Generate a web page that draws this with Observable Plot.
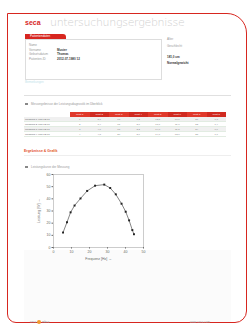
<!DOCTYPE html>
<html><head><meta charset="utf-8">
<script src="https://cdn.jsdelivr.net/npm/d3@7"></script>
<script src="https://cdn.jsdelivr.net/npm/@observablehq/plot@0.6"></script>
<style>
html,body{margin:0;padding:0;background:#fff;}
#page{position:relative;width:248px;height:326px;overflow:hidden;font-family:"Liberation Sans",Arial,sans-serif;color:#555;background:#fff;}
.abs{position:absolute;white-space:nowrap;}
#frame{position:absolute;left:7px;top:13px;width:238px;height:308px;border:1.5px solid #d7261f;border-radius:0 20px 12px 9px;}
#inner{position:absolute;left:24px;top:250px;width:207px;height:72px;background:#fbfbfb;}
.t{font-size:3px;color:#999;}
.b{font-size:3px;color:#333;font-weight:bold;}
table{border-collapse:collapse;font-size:2.5px;color:#888;}
td{height:4px;padding:0 1px;text-align:center;}
</style></head><body>
<div id="page">
  <div id="inner"></div>
  <div id="frame"></div>
  <div class="abs" style="left:25px;top:19px;font-size:7px;font-weight:bold;color:#d7261f;">seca</div>
  <div class="abs" style="left:50px;top:16px;font-size:11px;color:#d0d0d0;letter-spacing:-0.3px;font-family:'DejaVu Sans',sans-serif;font-weight:200;">untersuchungsergebnisse</div>
  <div class="abs" style="left:25px;top:34px;width:41px;height:5px;background:#d7261f;border-radius:0 3px 0 0;"></div>
  <div class="abs" style="left:30px;top:34px;font-size:3px;color:#fff;">Patientendaten</div>
  <div class="abs" style="left:25px;top:39px;width:135px;height:39px;border:0.5px solid #ddd;"></div>
  <div id="info"></div>
  <div class="abs" style="left:25px;top:80px;font-size:3px;color:#bfe3ea;">Bemerkungen</div>
  <div class="abs" style="left:24px;top:95px;width:207px;height:0.6px;background:#e0e0e0;"></div>
  <div class="abs" style="left:25px;top:103px;width:3px;height:2px;background:#888;"></div>
  <div class="abs t" style="left:31px;top:102px;">Messergebnisse der Leistungsdiagnostik im Überblick</div>
  <div class="abs" style="left:24px;top:112px;" id="tablewrap"></div>
  <div class="abs" style="left:24px;top:149px;font-size:3.5px;color:#e2511f;font-weight:bold;">Ergebnisse &amp; Grafik</div>
  <div class="abs" style="left:24px;top:155px;width:207px;height:0.6px;background:#eee;"></div>
  <div class="abs" style="left:25px;top:166px;width:3px;height:2px;background:#888;"></div>
  <div class="abs t" style="left:31px;top:165px;">Leistungskurve der Messung</div>
  <div class="abs" style="left:30px;top:168px;" id="chart"></div>
  <div class="abs" style="left:30px;top:320px;font-size:3px;color:#999;">seca <span style="display:inline-block;width:4px;height:4px;border-radius:2px;background:#f29a2e;vertical-align:middle;"></span> mbca</div>
  <div class="abs" style="left:190px;top:320px;font-size:3px;color:#aaa;">www.seca.com</div>
</div>
<script>
// ---- data ----
const infoLabels = ["Name", "Vorname", "Geburtsdatum", "Patienten-ID"];
const infoValues = ["", "Muster", "Thomas", "2012-07-1980 12"];
const rightLabels = ["Alter", "Geschlecht", "Größe", "Gewicht"];
const rightValues = ["", "männlich", "181,0 cm", "Normalgewicht"];
const tableHeader = ["", "Wert 1", "Wert 2", "Wert 3", "Wert 4", "Wert 5", "Wert 6", "Wert 7", "Wert 8"];
const tableRows = [
  ["Messung 1 vom 12.07.", "1", "2,1", "13", "1,2", "12,5", "10,1", "21", "1,3"],
  ["Messung 2 vom 12.07.", "2", "3,4", "15", "2,0", "13,1", "11,0", "22", "1,4"],
  ["Messung 3 vom 12.07.", "3", "4,0", "18", "2,2", "14,0", "11,5", "24", "1,6"],
  ["Messung 4 vom 12.07.", "4", "4,8", "20", "2,6", "14,6", "12,0", "25", "1,7"]
];
const xValues = [5.3, 7.5, 9.5, 11.7, 15.0, 18.7, 23.1, 28.2, 31.5, 34.6, 37.8, 40.1, 42.0, 43.8, 44.7];
const yValues = [12.3, 20.8, 28.9, 34.5, 40.3, 46.5, 50.8, 51.7, 48.9, 43.7, 36.0, 29.4, 22.3, 14.3, 10.9];
const xTicks = [0, 10, 20, 30, 40, 50];
const yTicks = [0, 10, 20, 30, 40, 50, 60];
const xLabel = "Frequenz [Hz]";
const yLabel = "Leistung [W]";

// ---- info box ----
const info = document.getElementById("info");
infoLabels.forEach((l, i) => {
  const top = 43 + i * 4.5;
  info.insertAdjacentHTML("beforeend",
    `<div class="abs t" style="left:29px;top:${top}px;">${l}</div>` +
    (infoValues[i] ? `<div class="abs b" style="left:57px;top:${top}px;">${infoValues[i]}</div>` : ""));
});
rightLabels.forEach((l, i) => {
  const top = [37, 44, 55, 61][i];
  const isBold = i >= 2;
  info.insertAdjacentHTML("beforeend",
    `<div class="abs ${isBold ? 'b' : 't'}" style="left:167px;top:${top}px;">${isBold ? rightValues[i] : l}</div>`);
});

// ---- table ----
let html = '<table><tr>';
tableHeader.forEach((h, i) => {
  html += i === 0
    ? `<td style="width:44px;background:#fff;"></td>`
    : `<td style="width:17.5px;background:${i % 2 ? '#e0392b' : '#d02a20'};color:#fff;height:5px;">${h}</td>`;
});
html += '</tr>';
tableRows.forEach((r, ri) => {
  html += '<tr>';
  r.forEach((c, ci) => {
    const bg = ri % 2 === 0 ? '#f0f0f0' : '#fff';
    html += `<td style="background:${bg};border-bottom:0.4px solid #e2ece2;${ci === 0 ? 'text-align:left;color:#666;' : ''}">${c}</td>`;
  });
  html += '</tr>';
});
html += '</table>';
document.getElementById("tablewrap").innerHTML = html;

// ---- chart ----
const data = xValues.map((x, i) => ({x, y: yValues[i]}));
const chart = Plot.plot({
  width: 118,
  height: 94,
  marginLeft: 23,
  marginRight: 5,
  marginTop: 6,
  marginBottom: 15,
  style: {fontSize: "3.5px", fontFamily: "Liberation Sans, Arial, sans-serif", color: "#666", background: "transparent"},
  x: {domain: [0, 50], ticks: xTicks, tickSize: 1.5, tickPadding: 1.5, label: xLabel, labelAnchor: "center", labelOffset: 12},
  y: {domain: [0, 60], ticks: yTicks, tickSize: 1.5, tickPadding: 1.5, label: yLabel, labelAnchor: "center", labelOffset: 16},
  marks: [
    Plot.frame({stroke: "#999", strokeWidth: 0.5}),
    Plot.line(data, {x: "x", y: "y", stroke: "#333", strokeWidth: 0.6}),
    Plot.dot(data, {x: "x", y: "y", r: 1.1, fill: "#222", symbol: "square"})
  ]
});
document.getElementById("chart").appendChild(chart);
</script>
</body></html>
